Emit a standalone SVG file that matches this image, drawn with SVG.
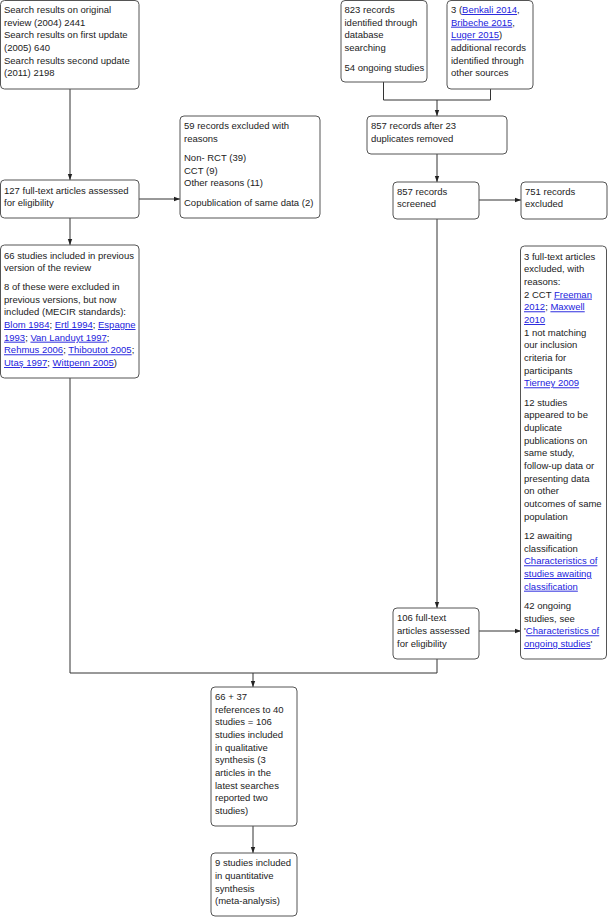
<svg xmlns="http://www.w3.org/2000/svg" width="608" height="917" viewBox="0 0 608 917">
<style>
.box{fill:#fff;stroke:#555;stroke-width:1}
text{font-family:"Liberation Sans",Arial,sans-serif;font-size:9.5px;fill:#222}
.l{fill:#2222dd;text-decoration:underline}
.c{fill:none;stroke:#333;stroke-width:1}
</style>
<defs>
<marker id="ah" viewBox="0 0 6 6" refX="6" refY="3" markerWidth="6" markerHeight="6" orient="auto" markerUnits="userSpaceOnUse">
<path d="M0,0.8 L6,3 L0,5.2 z" fill="#222"/>
</marker>
</defs>
<g id="connectors">
<path class="c" d="M70,89 V180" marker-end="url(#ah)"/>
<path class="c" d="M139,199 H180" marker-end="url(#ah)"/>
<path class="c" d="M70,218 V245" marker-end="url(#ah)"/>
<path class="c" d="M70,378 V673 H437 V659"/>
<path class="c" d="M253,673 V687" marker-end="url(#ah)"/>
<path class="c" d="M383.5,82 V100 H490.5 V89"/>
<path class="c" d="M437,100 V116" marker-end="url(#ah)"/>
<path class="c" d="M437,154 V182" marker-end="url(#ah)"/>
<path class="c" d="M479,200 H521" marker-end="url(#ah)"/>
<path class="c" d="M437,219 V608" marker-end="url(#ah)"/>
<path class="c" d="M479,631 H521" marker-end="url(#ah)"/>
<path class="c" d="M253,826 V853" marker-end="url(#ah)"/>
</g>
<g id="n-search">
<rect class="box" x="0.5" y="0.5" width="138.5" height="88.5" rx="4"/>
<text><tspan x="4" y="13">Search results on original</tspan><tspan x="4" y="25.7">review (2004) 2441</tspan><tspan x="4" y="38.3">Search results on first update</tspan><tspan x="4" y="51">(2005) 640</tspan><tspan x="4" y="63.7">Search results second update</tspan><tspan x="4" y="76.3">(2011) 2198</tspan></text>
</g>
<g id="n-db">
<rect class="box" x="341" y="0.5" width="86" height="81.5" rx="4"/>
<text><tspan x="344.5" y="13">823 records</tspan><tspan x="344.5" y="25.7">identified through</tspan><tspan x="344.5" y="38.3">database</tspan><tspan x="344.5" y="51">searching</tspan><tspan x="344.5" y="70.7">54 ongoing studies</tspan></text>
</g>
<g id="n-other">
<rect class="box" x="447" y="0.5" width="86" height="88.5" rx="4"/>
<text><tspan x="451" y="13">3 (</tspan><tspan class="l">Benkali 2014</tspan><tspan>,</tspan><tspan x="451" y="25.7" class="l">Bribeche 2015</tspan><tspan>,</tspan><tspan x="451" y="38.3" class="l">Luger 2015</tspan><tspan>)</tspan><tspan x="451" y="51">additional records</tspan><tspan x="451" y="63.7">identified through</tspan><tspan x="451" y="76.3">other sources</tspan></text>
</g>
<g id="n-dedup">
<rect class="box" x="367" y="116" width="140" height="38" rx="4"/>
<text><tspan x="371" y="129">857 records after 23</tspan><tspan x="371" y="141.7">duplicates removed</tspan></text>
</g>
<g id="n-59">
<rect class="box" x="180" y="116" width="140" height="102" rx="4"/>
<text><tspan x="184" y="129">59 records excluded with</tspan><tspan x="184" y="141.7">reasons</tspan><tspan x="184" y="161.3">Non- RCT (39)</tspan><tspan x="184" y="174">CCT (9)</tspan><tspan x="184" y="186.3">Other reasons (11)</tspan><tspan x="184" y="206.3">Copublication of same data (2)</tspan></text>
</g>
<g id="n-127">
<rect class="box" x="0.5" y="180" width="138.5" height="38" rx="4"/>
<text><tspan x="4" y="193.7">127 full-text articles assessed</tspan><tspan x="4" y="206.3">for eligibility</tspan></text>
</g>
<g id="n-screened">
<rect class="box" x="393" y="182" width="86" height="37" rx="4"/>
<text><tspan x="397" y="194.7">857 records</tspan><tspan x="397" y="207.3">screened</tspan></text>
</g>
<g id="n-751">
<rect class="box" x="521" y="182" width="86" height="37" rx="4"/>
<text><tspan x="525" y="194.7">751 records</tspan><tspan x="525" y="207.3">excluded</tspan></text>
</g>
<g id="n-66">
<rect class="box" x="0.5" y="245" width="138.5" height="133" rx="4"/>
<text><tspan x="4" y="258.5">66 studies included in previous</tspan><tspan x="4" y="271.2">version of the review</tspan><tspan x="4" y="290">8 of these were excluded in</tspan><tspan x="4" y="302.7">previous versions, but now</tspan><tspan x="4" y="315.3">included (MECIR standards):</tspan><tspan x="4" y="328" class="l">Blom 1984</tspan><tspan>; </tspan><tspan class="l">Ertl 1994</tspan><tspan>; </tspan><tspan class="l">Espagne</tspan><tspan x="4" y="340.7" class="l">1993</tspan><tspan>; </tspan><tspan class="l">Van Landuyt 1997</tspan><tspan>;</tspan><tspan x="4" y="353.3" class="l">Rehmus 2006</tspan><tspan>; </tspan><tspan class="l">Thiboutot 2005</tspan><tspan>;</tspan><tspan x="4" y="366" class="l">Utaş 1997</tspan><tspan>; </tspan><tspan class="l">Wittpenn 2005</tspan><tspan>)</tspan></text>
</g>
<g id="n-excl3">
<rect class="box" x="520.5" y="246" width="86" height="413" rx="4"/>
<text><tspan x="524" y="259.7">3 full-text articles</tspan><tspan x="524" y="272.3">excluded, with</tspan><tspan x="524" y="285">reasons:</tspan><tspan x="524" y="297.7">2 CCT </tspan><tspan class="l">Freeman</tspan><tspan x="524" y="310.3" class="l">2012</tspan><tspan>; </tspan><tspan class="l">Maxwell</tspan><tspan x="524" y="323" class="l">2010</tspan><tspan x="524" y="335.7">1 not matching</tspan><tspan x="524" y="348.3">our inclusion</tspan><tspan x="524" y="361">criteria for</tspan><tspan x="524" y="373.7">participants</tspan><tspan x="524" y="386.3" class="l">Tierney 2009</tspan><tspan x="524" y="405.7">12 studies</tspan><tspan x="524" y="418.3">appeared to be</tspan><tspan x="524" y="431">duplicate</tspan><tspan x="524" y="443.7">publications on</tspan><tspan x="524" y="456.3">same study,</tspan><tspan x="524" y="469">follow-up data or</tspan><tspan x="524" y="481.7">presenting data</tspan><tspan x="524" y="494.3">on other</tspan><tspan x="524" y="507">outcomes of same</tspan><tspan x="524" y="519.7">population</tspan><tspan x="524" y="539">12 awaiting</tspan><tspan x="524" y="551.7">classification</tspan><tspan x="524" y="564.3" class="l">Characteristics of</tspan><tspan x="524" y="577" class="l">studies awaiting</tspan><tspan x="524" y="589.7" class="l">classification</tspan><tspan x="524" y="609">42 ongoing</tspan><tspan x="524" y="621.7">studies, see</tspan><tspan x="524" y="634.3">'</tspan><tspan class="l">Characteristics of</tspan><tspan x="524" y="647" class="l">ongoing studies</tspan><tspan>'</tspan></text>
</g>
<g id="n-106">
<rect class="box" x="393" y="608" width="86" height="51" rx="4"/>
<text><tspan x="397" y="621.3">106 full-text</tspan><tspan x="397" y="634.3">articles assessed</tspan><tspan x="397" y="647">for eligibility</tspan></text>
</g>
<g id="n-qual">
<rect class="box" x="211" y="687" width="86" height="139" rx="4"/>
<text><tspan x="215" y="700">66 + 37</tspan><tspan x="215" y="712.7">references to 40</tspan><tspan x="215" y="725.3">studies = 106</tspan><tspan x="215" y="738">studies included</tspan><tspan x="215" y="750.7">in qualitative</tspan><tspan x="215" y="763.3">synthesis (3</tspan><tspan x="215" y="776">articles in the</tspan><tspan x="215" y="788.7">latest searches</tspan><tspan x="215" y="801.3">reported two</tspan><tspan x="215" y="814">studies)</tspan></text>
</g>
<g id="n-quant">
<rect class="box" x="211" y="853" width="86" height="63" rx="4"/>
<text><tspan x="215" y="866.3">9 studies included</tspan><tspan x="215" y="879">in quantitative</tspan><tspan x="215" y="891.7">synthesis</tspan><tspan x="215" y="904.3">(meta-analysis)</tspan></text>
</g>
</svg>
